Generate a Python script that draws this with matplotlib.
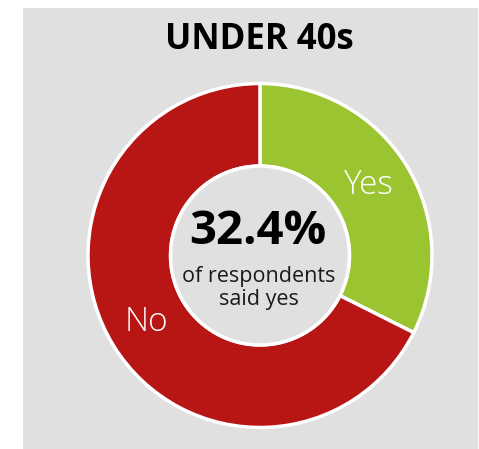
import matplotlib.pyplot as plt
from matplotlib.patches import Rectangle, Circle

labels = ['Yes', 'No']
values = [32.4, 67.6]
colors = ['#9bc431', '#b81515']
title = 'UNDER 40s'
center_big = '32.4%'
center_small = 'of respondents\nsaid yes'

W, H = 479, 449
fig = plt.figure(figsize=(W / 100, H / 100), dpi=100)
fig.patch.set_facecolor('white')

# grey panel behind everything
fig.patches.append(Rectangle((23 / W, 0), (478 - 23) / W, (H - 8) / H,
                             transform=fig.transFigure, facecolor='#e0e0e0',
                             edgecolor='none', zorder=-5))

cx, cy, r = 260, 255.5, 172
lim = 1.02
half = r * lim
ax = fig.add_axes([(cx - half) / W, (H - cy - half) / H, 2 * half / W, 2 * half / H])
ax.set_facecolor('none')

wedges, _ = ax.pie(values, colors=colors, startangle=90, counterclock=False,
                   radius=1.0,
                   wedgeprops=dict(width=0.48, edgecolor='white', linewidth=2.5))
ax.add_patch(Circle((0, 0), 0.52, facecolor='#e0e0e0', edgecolor='white',
                    linewidth=2.5, zorder=3))
ax.set_xlim(-lim, lim)
ax.set_ylim(-lim, lim)
ax.set_aspect('equal')
ax.axis('off')

font = 'Open Sans'

def to_data(px, py):
    return ((px - cx) / r, (cy - py) / r)

ax.text(*to_data(369, 185), labels[0], color='white', fontsize=24,
        family=font, weight='light', ha='center', va='center', zorder=4)
ax.text(*to_data(146, 322), labels[1], color='white', fontsize=24,
        family=font, weight='light', ha='center', va='center', zorder=4)

ax.text(*to_data(258, 232), center_big, color='black', fontsize=34,
        family=font, weight='bold', ha='center', va='center', zorder=4)
ax.text(*to_data(259, 288), center_small, color='#1a1a1a', fontsize=15.5,
        family=font, ha='center', va='center', linespacing=1.15, zorder=4)

fig.text(259 / W, 1 - 40 / H, title, color='black', fontsize=25,
         family=font, weight='bold', ha='center', va='center')

fig.savefig('out.png', dpi=100)
